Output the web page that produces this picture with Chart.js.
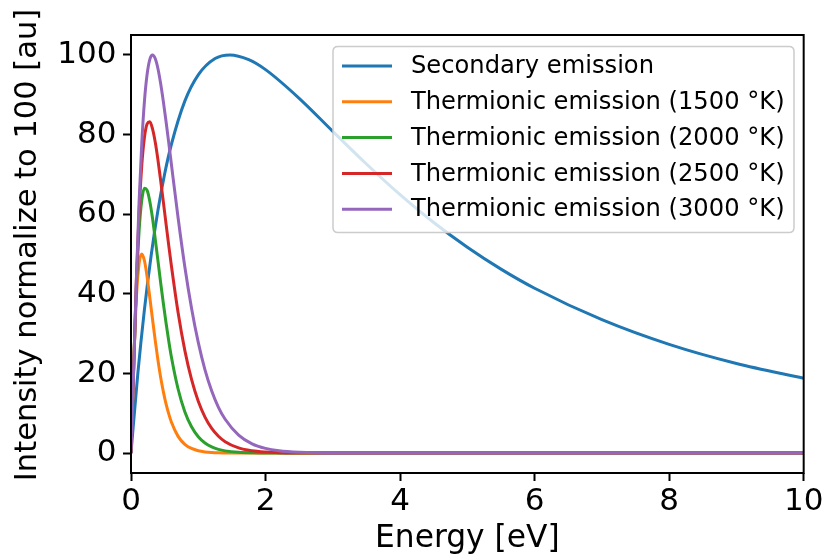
<!DOCTYPE html>
<html>
<head>
<meta charset="utf-8">
<script src="https://cdn.jsdelivr.net/npm/chart.js@4"></script>
<style>
html,body{margin:0;padding:0;background:#ffffff;}
#wrap{width:826px;height:559px;}
</style>
</head>
<body>
<div id="wrap"><canvas id="c" width="826" height="559"></canvas></div>
<script>
// ---- data ----
const seriesNames = [
  'Secondary emission',
  'Thermionic emission (1500 °K)',
  'Thermionic emission (2000 °K)',
  'Thermionic emission (2500 °K)',
  'Thermionic emission (3000 °K)'
];
const seriesColors = ['#1f77b4', '#ff7f0e', '#2ca02c', '#d62728', '#9467bd'];

const secondaryEnergy = [0, 0.1, 0.2, 0.3, 0.4, 0.5, 0.6, 0.8, 1.0, 1.25, 1.47, 1.75, 2.0, 2.5, 3.0, 3.5, 4.0, 4.5, 5.0, 5.5, 6.0, 7.0, 8.0, 9.0, 10.0];
const secondaryValues = [0, 19.7, 36.1, 49.7, 60.9, 70.1, 77.5, 88.4, 95.0, 99.1, 100, 98.8, 96.3, 89.1, 80.8, 72.6, 64.9, 57.9, 51.7, 46.2, 41.4, 33.5, 27.3, 22.5, 18.8];

const thermEnergy = [0, 0.04, 0.08, 0.12, 0.16, 0.20, 0.24, 0.28, 0.32, 0.36, 0.40, 0.44, 0.48, 0.52, 0.56, 0.60, 0.70, 0.80, 0.90, 1.0, 1.1, 1.2, 1.3, 1.4, 1.6, 1.8, 2.0, 2.2, 2.5, 3.0, 10];
const therm1500 = [0, 21.9, 38.9, 47.6, 50.0, 48.3, 44.2, 39.0, 33.6, 28.3, 23.4, 19.1, 15.5, 12.4, 9.9, 7.8, 4.2, 2.2, 1.16, 0.59, 0.30, 0.15, 0.07, 0.04, 0.01, 0, 0, 0, 0, 0, 0];
const therm2000 = [0, 21.8, 42.0, 55.7, 63.5, 66.5, 66.0, 63.2, 59.0, 53.8, 48.4, 42.9, 37.7, 32.8, 28.3, 24.2, 16.1, 10.4, 6.6, 4.1, 2.53, 1.54, 0.93, 0.56, 0.20, 0.07, 0.02, 0, 0, 0, 0];
const therm2500 = [0, 21.4, 43.3, 60.3, 72.2, 79.3, 82.7, 83.2, 81.4, 78.1, 73.7, 68.6, 63.2, 57.7, 52.3, 47.1, 35.3, 25.8, 18.5, 13.0, 9.05, 6.2, 4.24, 2.87, 1.29, 0.57, 0.25, 0.10, 0.03, 0, 0];
const therm3000 = [0, 20.9, 43.7, 63.0, 77.8, 88.4, 95.2, 98.9, 100, 99.1, 96.6, 92.9, 88.4, 83.4, 78.1, 72.6, 59.1, 46.8, 36.4, 27.8, 20.9, 15.6, 11.5, 8.5, 4.5, 2.3, 1.18, 0.59, 0.21, 0.03, 0];

const xTicks = [0, 2, 4, 6, 8, 10];
const yTicks = [0, 20, 40, 60, 80, 100];
const xTitle = 'Energy [eV]';
const yTitle = 'Intensity normalize to 100 [au]';

// ---- build chart ----
const FONT = 'DejaVu Sans';
function pts(xs, ys) { return xs.map((x, i) => ({x: x, y: ys[i]})); }

const seriesData = [
  pts(secondaryEnergy, secondaryValues),
  pts(thermEnergy, therm1500),
  pts(thermEnergy, therm2000),
  pts(thermEnergy, therm2500),
  pts(thermEnergy, therm3000)
];

const datasets = seriesData.map((d, i) => ({
  label: seriesNames[i],
  data: d,
  borderColor: seriesColors[i],
  backgroundColor: seriesColors[i],
  borderWidth: 3,
  pointRadius: 0,
  pointHoverRadius: 0,
  fill: false,
  cubicInterpolationMode: 'monotone',
  order: seriesNames.length - i
}));

const framePlugin = {
  id: 'frameAndLegend',
  afterDraw(chart) {
    const ctx = chart.ctx;
    const a = chart.chartArea;
    ctx.save();
    // axes frame (spines)
    ctx.strokeStyle = '#000000';
    ctx.lineWidth = 2;
    ctx.strokeRect(a.left, a.top, a.right - a.left, a.bottom - a.top);

    // y axis title
    ctx.save();
    ctx.translate(28.5, 245);
    ctx.rotate(-Math.PI / 2);
    ctx.font = '30.5px "' + FONT + '"';
    ctx.fillStyle = '#000000';
    ctx.textAlign = 'center';
    ctx.textBaseline = 'middle';
    ctx.fillText(yTitle, 0, 0);
    ctx.restore();

    // legend inside the axes, upper right
    const lx = 333, ly = 46.5, lw = 461, lh = 186, r = 5;
    ctx.beginPath();
    ctx.moveTo(lx + r, ly);
    ctx.lineTo(lx + lw - r, ly);
    ctx.quadraticCurveTo(lx + lw, ly, lx + lw, ly + r);
    ctx.lineTo(lx + lw, ly + lh - r);
    ctx.quadraticCurveTo(lx + lw, ly + lh, lx + lw - r, ly + lh);
    ctx.lineTo(lx + r, ly + lh);
    ctx.quadraticCurveTo(lx, ly + lh, lx, ly + lh - r);
    ctx.lineTo(lx, ly + r);
    ctx.quadraticCurveTo(lx, ly, lx + r, ly);
    ctx.closePath();
    ctx.fillStyle = 'rgba(255,255,255,0.8)';
    ctx.fill();
    ctx.strokeStyle = '#cccccc';
    ctx.lineWidth = 1.5;
    ctx.stroke();

    ctx.font = '24.2px "' + FONT + '"';
    ctx.textBaseline = 'middle';
    ctx.textAlign = 'left';
    chart.data.datasets.forEach((ds, i) => {
      const y = 66 + i * 35.8;
      ctx.strokeStyle = ds.borderColor;
      ctx.lineWidth = 3;
      ctx.beginPath();
      ctx.moveTo(342, y);
      ctx.lineTo(392, y);
      ctx.stroke();
      ctx.fillStyle = '#000000';
      ctx.fillText(ds.label, 411, y + 1);
    });
    ctx.restore();
  }
};

new Chart(document.getElementById('c'), {
  type: 'line',
  data: { datasets: datasets },
  options: {
    responsive: false,
    devicePixelRatio: 1,
    animation: false,
    parsing: true,
    layout: { padding: { top: 35, right: 20, left: 0, bottom: 0 } },
    plugins: { legend: { display: false }, tooltip: { enabled: false } },
    scales: {
      x: {
        type: 'linear',
        min: 0,
        max: 10,
        afterBuildTicks: s => { s.ticks = xTicks.map(v => ({value: v})); },
        afterFit: s => { s.height = 86; },
        ticks: {
          font: { family: FONT, size: 31 },
          color: '#000000',
          padding: 2.6,
          maxRotation: 0,
          autoSkip: false
        },
        grid: { drawOnChartArea: false, drawTicks: true, tickLength: 8, tickWidth: 2, tickColor: '#000000' },
        border: { display: false },
        title: {
          display: true,
          text: xTitle,
          font: { family: FONT, size: 31.3 },
          color: '#000000',
          padding: { top: 0, bottom: 1 }
        }
      },
      y: {
        type: 'linear',
        min: -5,
        max: 105,
        afterBuildTicks: s => { s.ticks = yTicks.map(v => ({value: v})); },
        afterFit: s => { s.width = 131; },
        ticks: {
          font: { family: FONT, size: 31 },
          color: '#000000',
          padding: 6.5,
          autoSkip: false
        },
        grid: { drawOnChartArea: false, drawTicks: true, tickLength: 8, tickWidth: 2, tickColor: '#000000' },
        border: { display: false },
        title: { display: false }
      }
    }
  },
  plugins: [framePlugin]
});
</script>
</body>
</html>
